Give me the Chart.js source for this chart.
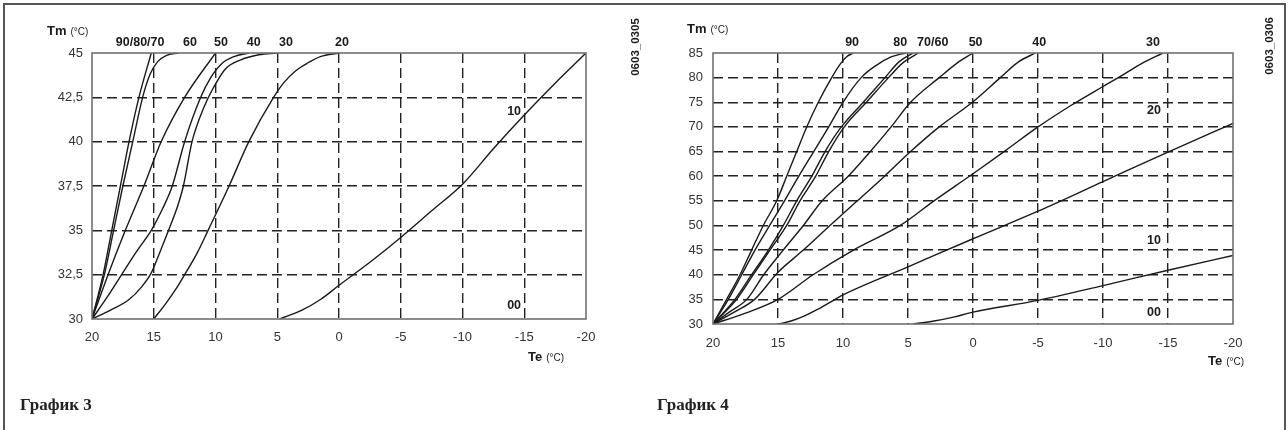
<!DOCTYPE html>
<html>
<head>
<meta charset="utf-8">
<script src="https://cdn.jsdelivr.net/npm/chart.js@4.4.1/dist/chart.umd.min.js"></script>
<style>
  html, body { margin: 0; padding: 0; background: #fff; }
  #wrap { position: relative; width: 1288px; height: 430px; overflow: hidden; }
  #frame { position: absolute; left: 3px; top: 3px; width: 1283px; height: 460px; border: 2px solid #555; box-sizing: border-box; }
  canvas { position: absolute; top: 0; }
  #g3 { left: 0; }
  #g4 { left: 645px; }
</style>
</head>
<body>
<div id="wrap">
  <div id="frame"></div>
  <canvas id="g3" width="645" height="430"></canvas>
  <canvas id="g4" width="643" height="430"></canvas>
</div>
<script>
// ---- tick labels ----
const teTicks = [20, 15, 10, 5, 0, -5, -10, -15, -20];
const teTickLabels = ['20', '15', '10', '5', '0', '-5', '-10', '-15', '-20'];
const tm3Ticks = [30, 32.5, 35, 37.5, 40, 42.5, 45];
const tm3TickLabels = ['30', '32,5', '35', '37,5', '40', '42,5', '45'];
const tm4Ticks = [30, 35, 40, 45, 50, 55, 60, 65, 70, 75, 80, 85];
const tm4TickLabels = ['30', '35', '40', '45', '50', '55', '60', '65', '70', '75', '80', '85'];

// ---- График 3 curves, [Te, Tm] ----
const g3_9080 = [[20,30],[19.1,32.5],[18.4,35],[17.7,37.5],[17.0,40],[16.2,42.5],[15.2,45]];
const g3_60 = [[20,30],[19.0,32.5],[18.25,35],[17.5,37.5],[16.7,40],[15.9,42.5],[15.3,43.8],[14.7,44.5],[14.0,44.85],[13.0,45]];
const g3_50 = [[20,30],[18.7,32.5],[17.3,35],[15.8,37.5],[14.4,40],[12.5,42.5],[10.0,45]];
const g3_40 = [[20,30],[18.8,31.2],[17.6,32.5],[16.4,33.8],[15.2,35],[14.3,36.2],[13.5,37.5],[12.5,40],[11.2,42.5],[10.4,43.6],[9.5,44.4],[8.5,44.8],[7.3,45]];
const g3_30 = [[20,30],[18.5,30.5],[17,31.1],[16,31.8],[15.2,32.6],[14.6,33.6],[13.8,35],[13.1,36.3],[12.6,37.5],[11.9,40],[10.9,42],[10.2,43],[9.2,44.1],[8,44.6],[6.5,44.9],[5,45]];
const g3_20 = [[15,30],[14,30.9],[13.2,31.7],[12.5,32.5],[11.5,33.7],[10.6,35],[8.9,37.5],[7.3,40],[5.3,42.5],[4.5,43.3],[3.5,44],[2.5,44.45],[1.5,44.8],[0,45]];
const g3_10 = [[4.8,30],[3,30.5],[1.5,31.1],[0,31.9],[-2.5,33.2],[-5,34.6],[-7.5,36.1],[-10,37.6],[-12.5,39.6],[-15,41.5],[-17.5,43.3],[-20,45]];

// ---- График 4 curves, [Te, Tm] ----
const g4_90 = [[20,30],[18.95,35],[17.92,40],[17.03,45],[16.13,50],[15.1,55],[14.33,60],[13.56,65],[12.79,70],[11.9,75],[10.87,80],[10.2,82.8],[9.7,84.3],[9.2,85]];
const g4_80 = [[20,30],[18.82,35],[17.79,40],[16.77,45],[15.64,50],[14.5,55],[13.4,60],[12.25,65],[11.1,70],[10.0,75],[8.6,80],[7.5,82.4],[6.3,84.2],[5.2,85]];
const g4_70 = [[20,30],[18.31,35],[17.03,40],[15.74,45],[14.59,50],[13.56,55],[12.4,60],[11.38,65],[10.13,70],[8.44,75],[6.77,80],[5.7,83.2],[4.6,85]];
const g4_60 = [[20,30],[18.18,35],[16.9,40],[15.62,45],[14.33,50],[13.31,55],[12.1,60],[11.1,65],[9.9,70],[8.2,75],[6.5,80],[5.4,83],[4.2,85]];
const g4_50 = [[20,30],[18.7,32.5],[17.4,35],[16.1,40],[14.6,45],[13.05,50],[11.6,55],[9.6,60],[7.9,65],[6.3,70],[4.8,75],[2.6,80],[1.2,83],[0,85]];
const g4_40 = [[20,30],[18.3,32.5],[16.8,35],[15.0,40.5],[13.05,45],[11.0,50],[8.9,55],[6.8,60],[4.8,65],[2.6,70],[0,75.1],[-2.1,80],[-3.5,83.2],[-4.8,85]];
const g4_30 = [[20,30],[17.5,32.2],[15,35],[12.3,40],[9.2,45],[5.6,50],[3.0,55],[0,60.5],[-2.5,65.2],[-5,70],[-7.5,74.3],[-10,78.2],[-11.5,80.5],[-13,82.9],[-14.6,85]];
const g4_20 = [[15,30],[14,30.6],[13,31.6],[12,32.9],[11,34.4],[10,35.9],[5,41.6],[0,47.3],[-5,52.9],[-10,58.9],[-15,64.9],[-20,70.7]];
const g4_10 = [[4.6,30],[3,30.6],[1.5,31.4],[0,32.4],[-5,34.8],[-10,37.8],[-15,40.9],[-20,43.9]];

const SANS = '"Liberation Sans", Arial, Helvetica, sans-serif';
const INK = '#1a1a1a';

function toXY(arr) { return arr.map(p => ({ x: p[0], y: p[1] })); }

function curve(arr) {
  return {
    data: toXY(arr),
    showLine: true,
    borderColor: INK,
    borderWidth: 1.4,
    pointRadius: 0,
    cubicInterpolationMode: 'monotone',
    fill: false
  };
}

// small "Tm (°C)" style text: bold symbol + smaller unit
function unitLabel(ctx, sym, x, y) {
  ctx.textAlign = 'left';
  ctx.textBaseline = 'alphabetic';
  ctx.font = 'bold 13px ' + SANS;
  ctx.fillText(sym, x, y);
  const w = ctx.measureText(sym).width;
  ctx.font = '10px ' + SANS;
  ctx.fillText('(°C)', x + w + 4, y);
}

const decor = {
  id: 'decor',
  afterDraw(chart, args, o) {
    const { ctx, chartArea: a, scales: { x, y } } = chart;
    ctx.save();
    // plot frame
    ctx.strokeStyle = '#707070';
    ctx.lineWidth = 1.6;
    ctx.strokeRect(a.left, a.top, a.right - a.left, a.bottom - a.top);

    ctx.fillStyle = INK;
    // curve labels above the plot
    ctx.font = 'bold 12.5px ' + SANS;
    ctx.textAlign = 'center';
    ctx.textBaseline = 'middle';
    o.top.forEach(([t, te]) => ctx.fillText(t, x.getPixelForValue(te), a.top - 10));
    // curve labels inside the plot
    ctx.textAlign = 'right';
    o.side.forEach(([t, te, tm]) => ctx.fillText(t, x.getPixelForValue(te), y.getPixelForValue(tm)));

    // axis titles
    unitLabel(ctx, 'Tm', o.tm[0], o.tm[1]);
    unitLabel(ctx, 'Te', o.te[0], o.te[1]);

    // drawing code, rotated
    ctx.save();
    ctx.translate(o.code[0], o.code[1]);
    ctx.rotate(-Math.PI / 2);
    ctx.font = 'bold 11.5px ' + SANS;
    ctx.textAlign = 'center';
    ctx.textBaseline = 'middle';
    ctx.fillText(o.code[2], 0, 0);
    ctx.restore();

    // caption
    ctx.font = 'bold 17px "Liberation Serif", "Times New Roman", serif';
    ctx.textAlign = 'left';
    ctx.textBaseline = 'alphabetic';
    ctx.fillStyle = '#222';
    ctx.fillText(o.caption[0], o.caption[1], o.caption[2]);
    ctx.restore();
  }
};

function edgeless(min, max) {
  return (c) => (c.tick && (c.tick.value === min || c.tick.value === max)) ? 'rgba(0,0,0,0)' : '#222';
}

function makeChart(id, series, tmTicks, tmTickLabels, tmMin, tmMax, tmStep, pad, yPad, xPad, deco) {
  return new Chart(document.getElementById(id), {
    type: 'scatter',
    data: { datasets: series.map(curve) },
    options: {
      responsive: false,
      animation: false,
      events: [],
      layout: { padding: pad },
      plugins: { legend: { display: false }, tooltip: { enabled: false }, decor: deco },
      scales: {
        x: {
          type: 'linear',
          min: -20, max: 20, reverse: true,
          afterFit: (s) => { s.height = 30; },
          ticks: {
            stepSize: 5, padding: xPad, color: '#333',
            font: { family: SANS, size: 13 },
            callback: (v) => teTickLabels[teTicks.indexOf(v)]
          },
          grid: { color: edgeless(-20, 20), lineWidth: 1.4, drawTicks: false },
          border: { display: false, dash: [10, 5] }
        },
        y: {
          type: 'linear',
          min: tmMin, max: tmMax,
          afterFit: (s) => { s.width = 60; },
          ticks: {
            stepSize: tmStep, padding: yPad, color: '#333',
            font: { family: SANS, size: 13 },
            callback: (v) => tmTickLabels[tmTicks.indexOf(v)]
          },
          grid: { color: edgeless(tmMin, tmMax), lineWidth: 1.4, drawTicks: false },
          border: { display: false, dash: [10, 5] }
        }
      }
    },
    plugins: [decor]
  });
}

makeChart('g3',
  [g3_9080, g3_60, g3_50, g3_40, g3_30, g3_20, g3_10],
  tm3Ticks, tm3TickLabels, 30, 45, 2.5,
  { left: 32, right: 59, top: 53, bottom: 81 }, 9, 11,
  {
    top: [['90/80/70', 16.1], ['60', 12.07], ['50', 9.55], ['40', 6.9], ['30', 4.3], ['20', -0.24]],
    side: [['10', -14.74, 41.7], ['00', -14.74, 30.75]],
    tm: [47, 35],
    te: [528, 361],
    code: [636, 47, '0603_0305'],
    caption: ['График 3', 20, 410]
  });

makeChart('g4',
  [g4_90, g4_80, g4_70, g4_60, g4_50, g4_40, g4_30, g4_20, g4_10],
  tm4Ticks, tm4TickLabels, 30, 85, 5,
  { left: 8, right: 55, top: 53, bottom: 76 }, 10, 12,
  {
    top: [['90', 9.3], ['80', 5.6], ['70/60', 3.1], ['50', -0.2], ['40', -5.1], ['30', -13.85]],
    side: [['20', -14.45, 73.4], ['10', -14.45, 47.0], ['00', -14.45, 32.4]],
    tm: [42, 33],
    te: [563, 365],
    code: [625, 46, '0603_0306'],
    caption: ['График 4', 12, 410]
  });
</script>
</body>
</html>
